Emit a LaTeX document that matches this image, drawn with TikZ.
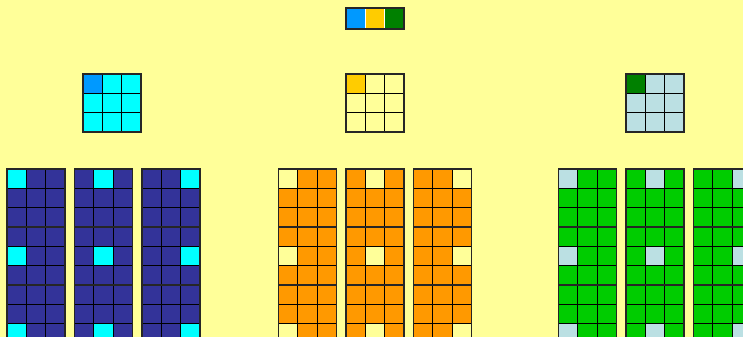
\documentclass[tikz,border=0pt]{standalone}
\usetikzlibrary{positioning}
\definecolor{paper}{HTML}{FFFF99}
\definecolor{navy}{HTML}{333399}
\definecolor{aqua}{HTML}{00FFFF}
\definecolor{sky}{HTML}{0099FF}
\definecolor{amber}{HTML}{FF9900}
\definecolor{gold}{HTML}{FFCC00}
\definecolor{leaf}{HTML}{00CC00}
\definecolor{forest}{HTML}{008000}
\definecolor{powder}{HTML}{BBE0E3}

\tikzset{
  cellline/.style={black, line width=1.1},
  blockline/.style={black!85, line width=1.7},
}

% corner x, corner y, fill, mark fill, marked column
\newcommand{\cellblock}[5]{%
  \fill[#3] (#1,#2) rectangle ++(58,58);
  \fill[#4] ({#1+#5*58/3},#2) rectangle ++(58/3,58/3);
  \foreach \k in {1,2} {
    \draw[cellline] ({#1+\k*58/3},#2) -- ++(0,58);
    \draw[cellline] (#1,{#2+\k*58/3}) -- ++(58,0);
  }
  \draw[blockline] (#1,#2) rectangle ++(58,58);
}

% corner x, fill, mark fill, marked column (nine rows from y=169)
\newcommand{\cellstack}[4]{%
  \fill[#2] (#1,169) rectangle ++(58,174);
  \foreach \r in {0,4,8}
    \fill[#3] ({#1+#4*58/3},{169+\r*58/3}) rectangle ++(58/3,58/3);
  \foreach \k in {1,2}
    \draw[cellline] ({#1+\k*58/3},169) -- ++(0,174);
  \foreach \k in {1,...,8}
    \draw[cellline] (#1,{169+\k*58/3}) -- ++(58,0);
  \foreach \b in {0,1,2}
    \draw[blockline] (#1,{169+\b*58}) rectangle ++(58,58);
}

\begin{document}
\begin{tikzpicture}[x=0.03cm,y=-0.03cm]

\useasboundingbox (0,0) rectangle (743,337);
\fill[paper] (0,0) rectangle (743,337);
\clip (0,0) rectangle (743,337);

% key
\fill[sky]    (346,8) rectangle ++(58/3,21);
\fill[gold]   ({346+58/3},8) rectangle ++(58/3,21);
\fill[forest] ({346+2*58/3},8) rectangle ++(58/3,21);
\draw[white, line width=0.8] ({346+58/3},8) -- ++(0,21);
\draw[white, line width=0.8] ({346+2*58/3},8) -- ++(0,21);
\draw[blockline] (346,8) rectangle ++(58,21);

% small grids
\cellblock{83}{74}{aqua}{sky}{0}
\cellblock{346}{74}{paper}{gold}{0}
\cellblock{626}{74}{powder}{forest}{0}

% stacks
\foreach \gx/\main/\mark in {7/navy/aqua, 278.5/amber/paper, 558.5/leaf/powder}
  \foreach \s in {0,1,2}
    \cellstack{\gx+\s*67.5}{\main}{\mark}{\s};

\end{tikzpicture}
\end{document}
